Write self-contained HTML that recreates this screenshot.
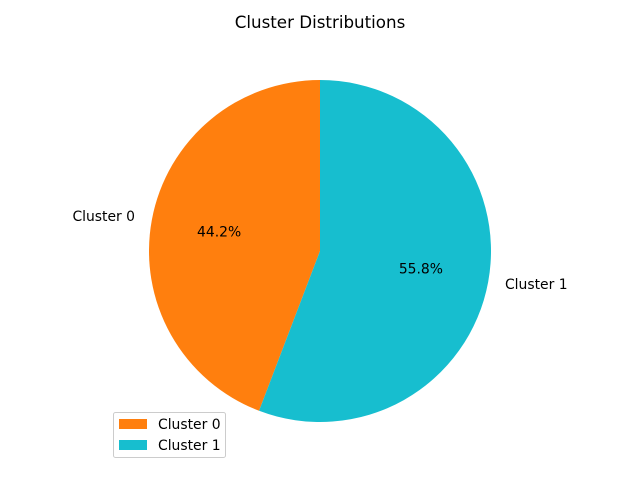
<!DOCTYPE html>
<html><head><meta charset="utf-8"><style>
body{margin:0;background:#fff;}
svg{display:block;font-family:"DejaVu Sans","Liberation Sans",sans-serif;}
</style></head><body>
<svg id="chart" width="640" height="480">
<text x="320" y="28" text-anchor="middle" font-size="16.7">Cluster Distributions</text>
<g id="slices"></g>
<g>
<rect x="113.5" y="412.5" width="112" height="45" rx="2" fill="#fff" stroke="#ccc"/>
<rect x="119" y="419" width="28" height="10" fill="#ff7f0e"/>
<text x="158" y="429" font-size="13.9">Cluster 0</text>
<rect x="119" y="440" width="28" height="10" fill="#17becf"/>
<text x="158" y="450" font-size="13.9">Cluster 1</text>
</g>
</svg>
<script>
const categories = ["Cluster 0", "Cluster 1"];
const values = [44.2, 55.8];
const colors = ["#ff7f0e", "#17becf"];
const cx = 320, cy = 251, r = 171;
const g = document.getElementById('slices');
const ns = 'http://www.w3.org/2000/svg';
const total = values.reduce((a,b)=>a+b,0);
let start = 90;
function pt(a, rr){ const t=a*Math.PI/180; return [cx+rr*Math.cos(t), cy-rr*Math.sin(t)]; }
values.forEach((v,i)=>{
  const sweep = v/total*360, end = start+sweep;
  const [x1,y1]=pt(start,r), [x2,y2]=pt(end,r);
  const p=document.createElementNS(ns,'path');
  p.setAttribute('d',`M${cx},${cy} L${x1},${y1} A${r},${r} 0 ${sweep>180?1:0} 0 ${x2},${y2} Z`);
  p.setAttribute('fill',colors[i]);
  
  
  g.appendChild(p);
  const mid=(start+end)/2;
  const [lx,ly]=pt(mid,r*1.1);
  const t=document.createElementNS(ns,'text');
  t.setAttribute('x',lx); t.setAttribute('y',ly+4);
  t.setAttribute('font-size','13.9');
  t.setAttribute('text-anchor', Math.cos(mid*Math.PI/180)<0?'end':'start');
  t.textContent=categories[i];
  
  
  g.appendChild(t);
  const [px,py]=pt(mid,r*0.6);
  const q=document.createElementNS(ns,'text');
  q.setAttribute('x',px); q.setAttribute('y',py+4);
  q.setAttribute('font-size','13.9'); q.setAttribute('text-anchor','middle');
  q.textContent=(v/total*100).toFixed(1)+'%';
  
  
  g.appendChild(q);
  start=end;
});
</script>
</body></html>
